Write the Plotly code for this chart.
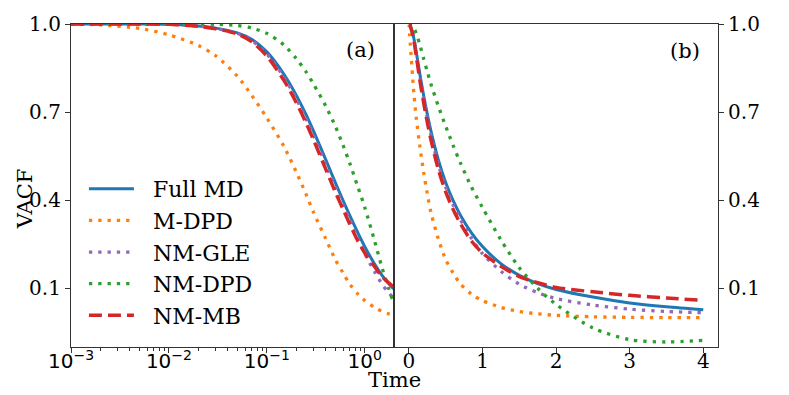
import plotly.graph_objects as go

# time axis shared by both panels (first point t=0 only used on the linear panel)
time = [0, 0.001, 0.002, 0.005, 0.01, 0.02, 0.03, 0.05, 0.07, 0.1, 0.15, 0.2, 0.25, 0.3,
        0.4, 0.5, 0.6, 0.7, 0.85, 1.0, 1.25, 1.5, 1.75, 2.0, 2.5, 3.0, 3.5, 4.0]

full_md = [1.0, 1.0, 1.0, 1.0, 0.999, 0.993, 0.986, 0.970, 0.948, 0.905, 0.828, 0.757, 0.693, 0.635,
           0.537, 0.46, 0.399, 0.349, 0.289, 0.242, 0.184, 0.144, 0.116, 0.096, 0.07, 0.05, 0.037, 0.027]
m_dpd = [1.0, 1.0, 0.997, 0.985, 0.963, 0.927, 0.892, 0.822, 0.757, 0.68, 0.582, 0.495, 0.422, 0.358,
         0.268, 0.198, 0.152, 0.115, 0.08, 0.058, 0.035, 0.021, 0.013, 0.008, 0.003, 0.001, 0.0, 0.0]
nm_gle = [1.0, 1.0, 1.0, 1.0, 0.999, 0.993, 0.985, 0.968, 0.944, 0.898, 0.818, 0.745, 0.679, 0.62,
          0.521, 0.444, 0.384, 0.334, 0.27, 0.218, 0.158, 0.114, 0.085, 0.065, 0.043, 0.029, 0.021, 0.017]
nm_dpd = [1.0, 1.0, 1.0, 1.0, 1.0, 1.0, 0.999, 0.995, 0.986, 0.968, 0.928, 0.882, 0.838, 0.795,
          0.72, 0.652, 0.587, 0.527, 0.445, 0.375, 0.265, 0.17, 0.1, 0.045, -0.035, -0.075, -0.083, -0.077]
nm_mb = [1.0, 1.0, 1.0, 1.0, 0.999, 0.992, 0.984, 0.966, 0.94, 0.891, 0.807, 0.732, 0.665, 0.605,
         0.505, 0.428, 0.369, 0.32, 0.261, 0.22, 0.175, 0.14, 0.119, 0.103, 0.088, 0.076, 0.067, 0.059]

y_ticks = [0.1, 0.4, 0.7, 1.0]
x_log_ticks = [1e-3, 1e-2, 1e-1, 1]
x_log_labels = ["10<sup>\u22123</sup>", "10<sup>\u22122</sup>", "10<sup>\u22121</sup>", "10<sup>0</sup>"]
x_lin_ticks = [0, 1, 2, 3, 4]

series = [
    ("Full MD", full_md),
    ("M-DPD", m_dpd),
    ("NM-GLE", nm_gle),
    ("NM-DPD", nm_dpd),
    ("NM-MB", nm_mb),
]
styles = {
    "Full MD": dict(color="#1f77b4", width=3, dash="solid"),
    "M-DPD": dict(color="#ff7f0e", width=3.3, dash="3.3px,6px"),
    "NM-GLE": dict(color="#9467bd", width=3.3, dash="3.3px,6px"),
    "NM-DPD": dict(color="#2ca02c", width=3.3, dash="3.3px,6px"),
    "NM-MB": dict(color="#d62728", width=3.5, dash="13px,6px"),
}

fig = go.Figure()
for name, vals in series:
    st = styles[name]
    line = dict(color=st["color"], width=st["width"], dash=st["dash"], shape="spline", smoothing=0.8)
    # (a) log time
    fig.add_trace(go.Scatter(x=time[1:], y=vals[1:], mode="lines", name="\u00a0\u00a0" + name,
                             line=line, xaxis="x", yaxis="y", legendgroup=name))
    # (b) linear time
    fig.add_trace(go.Scatter(x=time, y=vals, mode="lines", name=name, line=line,
                             xaxis="x2", yaxis="y2", legendgroup=name, showlegend=False))

axis_line = dict(showline=True, linecolor="#333", linewidth=1.2, mirror=True,
                 showgrid=False, zeroline=False, ticks="outside", ticklen=5,
                 tickcolor="#333", tickwidth=1, automargin=False)
split = 0.4995

# page body has an 8px margin, so the figure is 8px smaller than the window
fig.update_layout(
    width=781, height=387,
    margin=dict(l=63, r=71, t=16, b=48),
    paper_bgcolor="white", plot_bgcolor="white",
    font=dict(family="DejaVu Serif", size=20, color="black"),
    xaxis=dict(type="log", domain=[0, split], range=[-3, 0.3], anchor="y",
               tickmode="array", tickvals=x_log_ticks, ticktext=x_log_labels,
               tickfont=dict(family="DejaVu Sans", size=20), ticklabelstandoff=-9,
               minor=dict(ticks="outside", ticklen=2.5, dtick="D1", tickcolor="#333"),
               **axis_line),
    yaxis=dict(domain=[0, 1], range=[-0.1, 1.0], anchor="x",
               tickmode="array", tickvals=y_ticks, ticktext=[f"{v:.1f}" for v in y_ticks],
               **axis_line),
    xaxis2=dict(domain=[split, 1], range=[-0.2, 4.2], anchor="y2", ticklabelstandoff=-9,
                tickmode="array", tickvals=x_lin_ticks, **axis_line),
    yaxis2=dict(domain=[0, 1], range=[-0.1, 1.0], anchor="x2", side="right",
                tickmode="array", tickvals=y_ticks, ticktext=[f"{v:.1f}" for v in y_ticks],
                **axis_line),
    legend=dict(x=0.02, y=0.554, xanchor="left", yanchor="top", bgcolor="rgba(0,0,0,0)",
                font=dict(size=22), itemwidth=45, tracegroupgap=0),
    showlegend=True,
    annotations=[
        dict(text="(a)", x=0.448, y=0.92, xref="paper", yref="paper", showarrow=False,
             xanchor="center", yanchor="middle", font=dict(size=21)),
        dict(text="(b)", x=0.949, y=0.917, xref="paper", yref="paper", showarrow=False,
             xanchor="center", yanchor="middle", font=dict(size=21)),
        dict(text="Time", x=0.5, y=-0.102, xref="paper", yref="paper", showarrow=False,
             xanchor="center", yanchor="middle", font=dict(size=21)),
        dict(text="VACF", x=-0.071, y=0.458, xref="paper", yref="paper", showarrow=False,
             xanchor="center", yanchor="middle", textangle=-90, font=dict(size=21)),
    ],
)

fig.write_html("out.html")
